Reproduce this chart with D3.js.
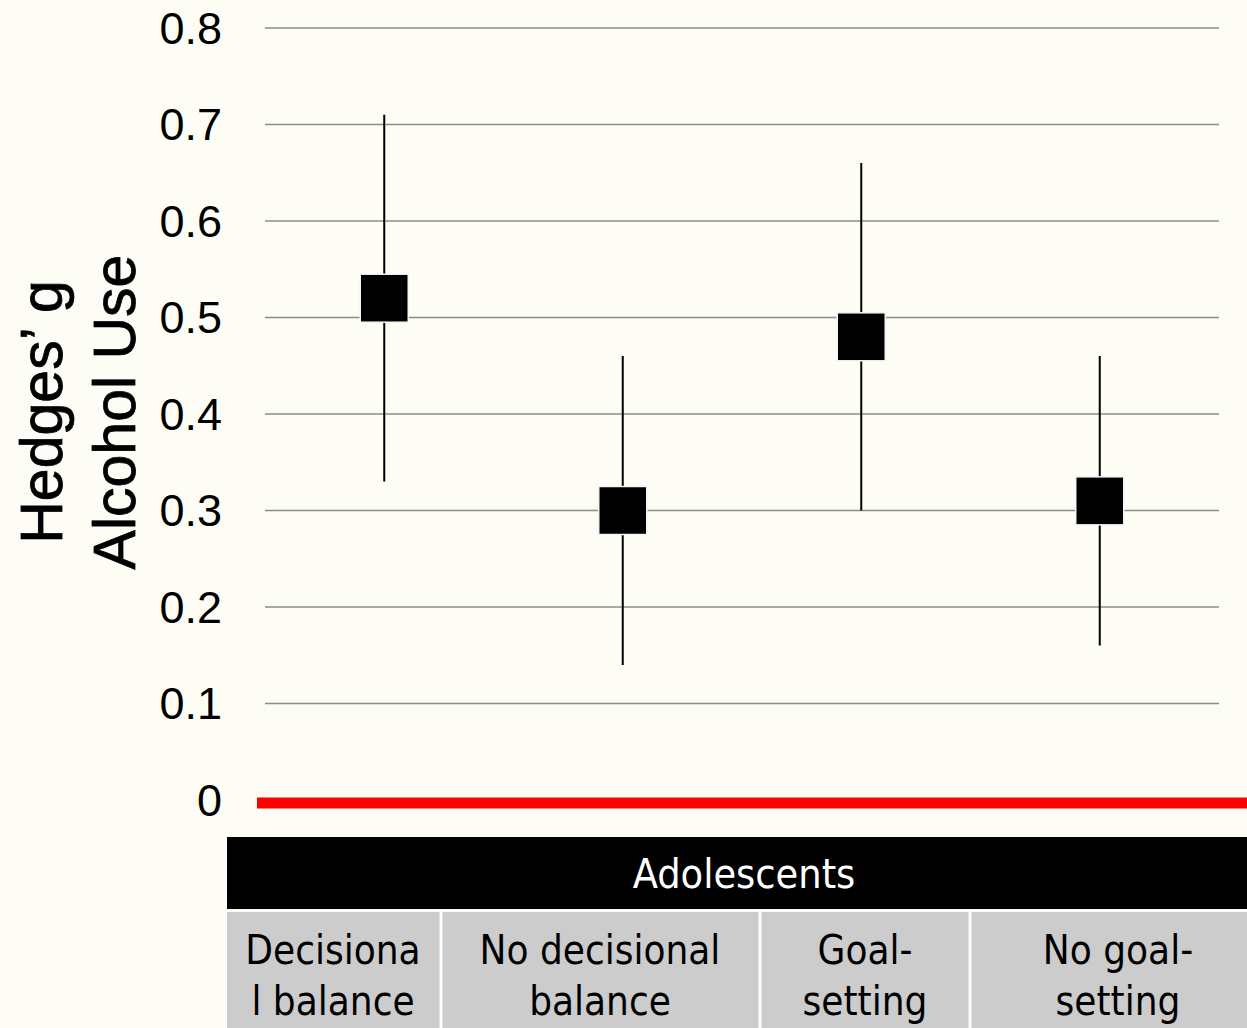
<!DOCTYPE html>
<html><head><meta charset="utf-8">
<script src="https://cdn.jsdelivr.net/npm/d3@7"></script>
<style>
html,body{margin:0;padding:0;background:#fdfdf6;}
svg{display:block;}
</style></head>
<body>
<svg id="chart" width="1247" height="1028"></svg>
<script>
const categories = ["Decisional balance", "No decisional balance", "Goal-setting", "No goal-setting"];
const categoryLines = [["Decisiona", "l balance"], ["No decisional", "balance"], ["Goal-", "setting"], ["No goal-", "setting"]];
const estimates = [0.52, 0.30, 0.48, 0.31];
const lowerCI = [0.33, 0.14, 0.30, 0.16];
const upperCI = [0.71, 0.46, 0.66, 0.46];
const yTicks = [0, 0.1, 0.2, 0.3, 0.4, 0.5, 0.6, 0.7, 0.8];
const groupLabel = "Adolescents";
const yTitleLines = ["Hedges’ g", "Alcohol Use"];

const svg = d3.select("#chart");
const W = 1247, H = 1028;
svg.append("rect").attr("width", W).attr("height", H).attr("fill", "#fdfdf6");

const x = d3.scaleBand().domain(categories).range([265, 1219]).padding(0);
const y = d3.scaleLinear().domain([0, 0.8]).range([800, 28]);

// gridlines
svg.append("g").selectAll("line").data(yTicks.filter(d => d > 0)).join("line")
  .attr("x1", 265).attr("x2", 1219)
  .attr("y1", d => y(d)).attr("y2", d => y(d))
  .attr("stroke", "#8c8c8c").attr("stroke-width", 1.6);

// y axis labels via d3 axis
const yAxis = d3.axisLeft(y).tickValues(yTicks).tickFormat(d => d === 0 ? "0" : d3.format(".1f")(d)).tickSize(0).tickPadding(0);
const ga = svg.append("g").attr("transform", "translate(222,0)").call(yAxis);
ga.select(".domain").remove();
ga.selectAll("text").attr("font-family", "Liberation Sans, Arial, sans-serif").attr("font-size", 45).attr("fill", "#000").attr("dy", "0.34em");

// zero line in red
svg.append("line").attr("x1", 257).attr("x2", 1247).attr("y1", y(0) + 3).attr("y2", y(0) + 3)
  .attr("stroke", "#ff0000").attr("stroke-width", 11);

// y title
const tg = svg.append("g").attr("transform", "translate(0,412) rotate(-90)");
tg.selectAll("text").data(yTitleLines).join("text")
  .attr("x", 0).attr("y", (d, i) => 62 + i * 73)
  .attr("text-anchor", "middle")
  .attr("font-family", "Liberation Sans, Arial, sans-serif")
  .attr("font-size", 59).attr("fill", "#000")
  .attr("stroke", "#000").attr("stroke-width", 0.8)
  .text(d => d);

// error bars
const cx = c => x(c) + x.bandwidth() / 2;
svg.append("g").selectAll("line").data(categories).join("line")
  .attr("x1", cx).attr("x2", cx)
  .attr("y1", (d, i) => y(upperCI[i])).attr("y2", (d, i) => y(lowerCI[i]))
  .attr("stroke", "#000").attr("stroke-width", 2);

// markers
const s = 48;
svg.append("g").selectAll("rect").data(categories).join("rect")
  .attr("x", d => cx(d) - s / 2).attr("y", (d, i) => y(estimates[i]) - s / 2)
  .attr("width", s).attr("height", s)
  .attr("fill", "#000").attr("stroke", "#f4f4f4").attr("stroke-width", 1.5);

// table header
const condensed = "'Liberation Sans Narrow', 'DejaVu Sans Condensed', Arial, sans-serif";
svg.append("rect").attr("x", 227).attr("y", 837).attr("width", W - 227).attr("height", 72).attr("fill", "#000");
svg.append("text").attr("x", 744).attr("y", 873).attr("dy", "0.36em")
  .attr("text-anchor", "middle").attr("fill", "#fff")
  .attr("font-family", condensed).attr("font-size", 41).text(groupLabel);

// table cells
const cellEdges = [227, 441, 760, 970, W];
const textCenters = [333, 600, 865, 1118];
const cg = svg.append("g").selectAll("g").data(categories).join("g");
cg.append("rect")
  .attr("x", (d, i) => cellEdges[i] + (i ? 1.5 : 0)).attr("y", 912)
  .attr("width", (d, i) => cellEdges[i + 1] - cellEdges[i] - (i ? 1.5 : 0) - (i < 3 ? 1.5 : 0))
  .attr("height", H - 912).attr("fill", "#cccccc");
cg.each(function(d, i) {
  const g = d3.select(this);
  g.selectAll("text").data(categoryLines[i]).join("text")
    .attr("x", textCenters[i]).attr("y", (t, j) => 950 + j * 51).attr("dy", "0.36em")
    .attr("text-anchor", "middle").attr("fill", "#000")
    .attr("font-family", condensed).attr("font-size", 40).text(t => t);
});
</script>
</body></html>
